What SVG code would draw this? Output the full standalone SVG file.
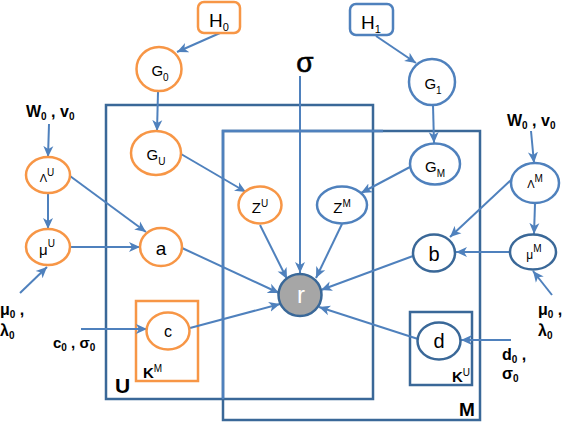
<svg xmlns="http://www.w3.org/2000/svg" width="562" height="422" viewBox="0 0 562 422">
<style>
text{font-family:"Liberation Sans",Arial,sans-serif;fill:#000}
.o{fill:#fff;stroke:#F79646;stroke-width:2.5}
.b{fill:#fff;stroke:#4F81BD;stroke-width:2.5}
.d{fill:#fff;stroke:#3A6898;stroke-width:2.5}
.plate{fill:none;stroke:#3A6898;stroke-width:2.5}
.c{stroke:#4F81BD;stroke-width:2;fill:none;marker-end:url(#ah)}
.bold{font-weight:bold}
</style>
<defs>
<marker id="ah" markerUnits="userSpaceOnUse" markerWidth="12" markerHeight="12" viewBox="0 0 12 12" refX="11" refY="6" orient="auto">
<path d="M0,1 L11,6 L0,11 L3,6 Z" fill="#4F81BD"/>
</marker>
</defs>
<rect width="562" height="422" fill="#fff"/>
<g id="plates">
<rect class="plate" x="106" y="105" width="267" height="294"/>
<rect class="plate" x="223" y="131" width="257" height="289"/>
<path d="M223,399 L223,131 L383,131" stroke="#4F81BD" stroke-width="2.5" fill="none"/>
<rect x="136" y="301" width="62" height="80" fill="none" stroke="#F79646" stroke-width="2.5"/>
<rect x="410" y="312" width="62" height="73" fill="none" stroke="#3A6898" stroke-width="2.5"/>
<text class="bold" x="115" y="393" font-size="21">U</text>
<text class="bold" x="459" y="416" font-size="19">M</text>
<text class="bold" x="143" y="378" font-size="15">K<tspan font-size="10" font-weight="normal" dy="-6">M</tspan></text>
<text class="bold" x="452" y="382" font-size="15">K<tspan font-size="10" font-weight="normal" dy="-6">U</tspan></text>
</g>
<g id="connectors">
<line class="c" x1="220" y1="33" x2="177" y2="52"/>
<line class="c" x1="158" y1="92" x2="157" y2="131"/>
<line class="c" x1="181" y1="154" x2="246" y2="192"/>
<line class="c" x1="49" y1="124" x2="48" y2="157"/>
<line class="c" x1="48" y1="193" x2="48" y2="229"/>
<line class="c" x1="20" y1="293" x2="47" y2="267"/>
<line class="c" x1="70" y1="176" x2="146" y2="232"/>
<line class="c" x1="70" y1="247" x2="140" y2="247"/>
<line class="c" x1="81" y1="329" x2="147" y2="329"/>
<line class="c" x1="376" y1="36" x2="416" y2="63"/>
<line class="c" x1="433" y1="105" x2="434" y2="143"/>
<line class="c" x1="410" y1="167" x2="361" y2="193"/>
<line class="c" x1="531" y1="131" x2="534" y2="163"/>
<line class="c" x1="535" y1="204" x2="534" y2="234"/>
<line class="c" x1="511" y1="180" x2="450" y2="237"/>
<line class="c" x1="510" y1="252" x2="456" y2="252"/>
<line class="c" x1="552" y1="295" x2="533" y2="271"/>
<line class="c" x1="511" y1="340" x2="461" y2="340"/>
<line class="c" x1="300" y1="76" x2="300" y2="273"/>
<line class="c" x1="182" y1="248" x2="279" y2="293"/>
<line class="c" x1="190" y1="328" x2="280" y2="304"/>
<line class="c" x1="260" y1="225" x2="287" y2="279"/>
<line class="c" x1="342" y1="224" x2="316" y2="278"/>
<line class="c" x1="413" y1="256" x2="321" y2="290"/>
<line class="c" x1="418" y1="339" x2="319" y2="307"/>
</g>
<g id="H0"><rect class="o" x="198" y="2" width="42" height="31" rx="6"/><text x="219" y="27" font-size="19" text-anchor="middle">H<tspan font-size="11" dy="4">0</tspan></text></g>
<g id="H1"><rect class="b" x="350" y="4" width="43" height="31" rx="6"/><text x="371" y="29" font-size="19" text-anchor="middle">H<tspan font-size="11" dy="4">1</tspan></text></g>
<g id="G0"><ellipse class="o" cx="159" cy="69" rx="22.5" ry="22"/><text x="160" y="76" font-size="15" text-anchor="middle">G<tspan font-size="10" dy="5">0</tspan></text></g>
<g id="GU"><ellipse class="o" cx="156" cy="153" rx="25" ry="22"/><text x="156" y="160" font-size="15" text-anchor="middle">G<tspan font-size="10" dy="5">U</tspan></text></g>
<g id="G1"><ellipse class="b" cx="432" cy="82" rx="23" ry="23"/><text x="433" y="89" font-size="15" text-anchor="middle">G<tspan font-size="10" dy="5">1</tspan></text></g>
<g id="GM"><ellipse class="b" cx="435" cy="164" rx="25" ry="20.5"/><text x="435" y="172" font-size="15" text-anchor="middle">G<tspan font-size="10" dy="5">M</tspan></text></g>
<g id="LambdaU"><ellipse class="o" cx="48" cy="175" rx="22" ry="18"/><text x="47" y="182" font-size="11" text-anchor="middle">Λ<tspan font-size="10" dy="-6">U</tspan></text></g>
<g id="muU"><ellipse class="o" cx="48" cy="247" rx="22" ry="18"/><text x="47" y="255" font-size="15" text-anchor="middle">μ<tspan font-size="10" dy="-8">U</tspan></text></g>
<g id="LambdaM"><ellipse class="b" cx="535" cy="183" rx="24" ry="20"/><text x="535" y="188" font-size="11" text-anchor="middle">Λ<tspan font-size="10" dy="-6">M</tspan></text></g>
<g id="muM"><ellipse class="d" cx="533" cy="252" rx="23" ry="17.5"/><text x="534" y="259" font-size="12" text-anchor="middle">μ<tspan font-size="10" dy="-7">M</tspan></text></g>
<g id="a"><ellipse class="o" cx="161" cy="247" rx="21" ry="19"/><text x="161" y="255" font-size="19" text-anchor="middle">a</text></g>
<g id="b"><ellipse class="d" cx="434" cy="253" rx="21" ry="18.5"/><text x="434" y="261" font-size="20" text-anchor="middle">b</text></g>
<g id="c"><ellipse class="o" cx="168" cy="331" rx="21.5" ry="18.5"/><text x="168" y="337" font-size="16" text-anchor="middle">c</text></g>
<g id="d"><ellipse class="d" cx="439" cy="341" rx="21.5" ry="18.5"/><text x="439" y="348" font-size="20" text-anchor="middle">d</text></g>
<g id="ZU"><ellipse class="o" cx="260" cy="205" rx="21.5" ry="18.5"/><text x="260" y="213" font-size="15" text-anchor="middle">Z<tspan font-size="10" dy="-6">U</tspan></text></g>
<g id="ZM"><ellipse class="b" cx="342" cy="205" rx="25" ry="18.5"/><text x="342" y="213" font-size="15" text-anchor="middle">Z<tspan font-size="10" dy="-6">M</tspan></text></g>
<g id="r"><ellipse cx="300" cy="295" rx="21.5" ry="21" fill="#A6A6A6" stroke="#3A6898" stroke-width="2.5"/><text x="301" y="303" font-size="24" fill="#fff" style="fill:#fff" text-anchor="middle">r</text></g>
<g id="sigma"><text x="305" y="72" font-size="28" text-anchor="middle" stroke="#000" stroke-width="0.6">σ</text></g>
<g id="labels">
<text class="bold" x="26" y="117" font-size="16">W<tspan font-size="10" dy="3">0</tspan><tspan dy="-3"> , v</tspan><tspan font-size="10" dy="3">0</tspan></text>
<text class="bold" x="507" y="126" font-size="16">W<tspan font-size="10" dy="3">0</tspan><tspan dy="-3"> , v</tspan><tspan font-size="10" dy="3">0</tspan></text>
<text class="bold" x="0" y="315" font-size="16">μ<tspan font-size="10" dy="3">0</tspan><tspan dy="-3"> ,</tspan></text>
<text class="bold" x="0" y="336" font-size="16">λ<tspan font-size="10" dy="3">0</tspan></text>
<text class="bold" x="538" y="315" font-size="16">μ<tspan font-size="10" dy="3">0</tspan><tspan dy="-3"> ,</tspan></text>
<text class="bold" x="538" y="336" font-size="16">λ<tspan font-size="10" dy="3">0</tspan></text>
<text class="bold" x="53" y="348" font-size="15">c<tspan font-size="10" dy="3">0</tspan><tspan dy="-3"> , σ</tspan><tspan font-size="10" dy="3">0</tspan></text>
<text class="bold" x="502" y="360" font-size="16">d<tspan font-size="10" dy="3">0</tspan><tspan dy="-3"> ,</tspan></text>
<text class="bold" x="502" y="379" font-size="16">σ<tspan font-size="10" dy="3">0</tspan></text>
</g>
</svg>
